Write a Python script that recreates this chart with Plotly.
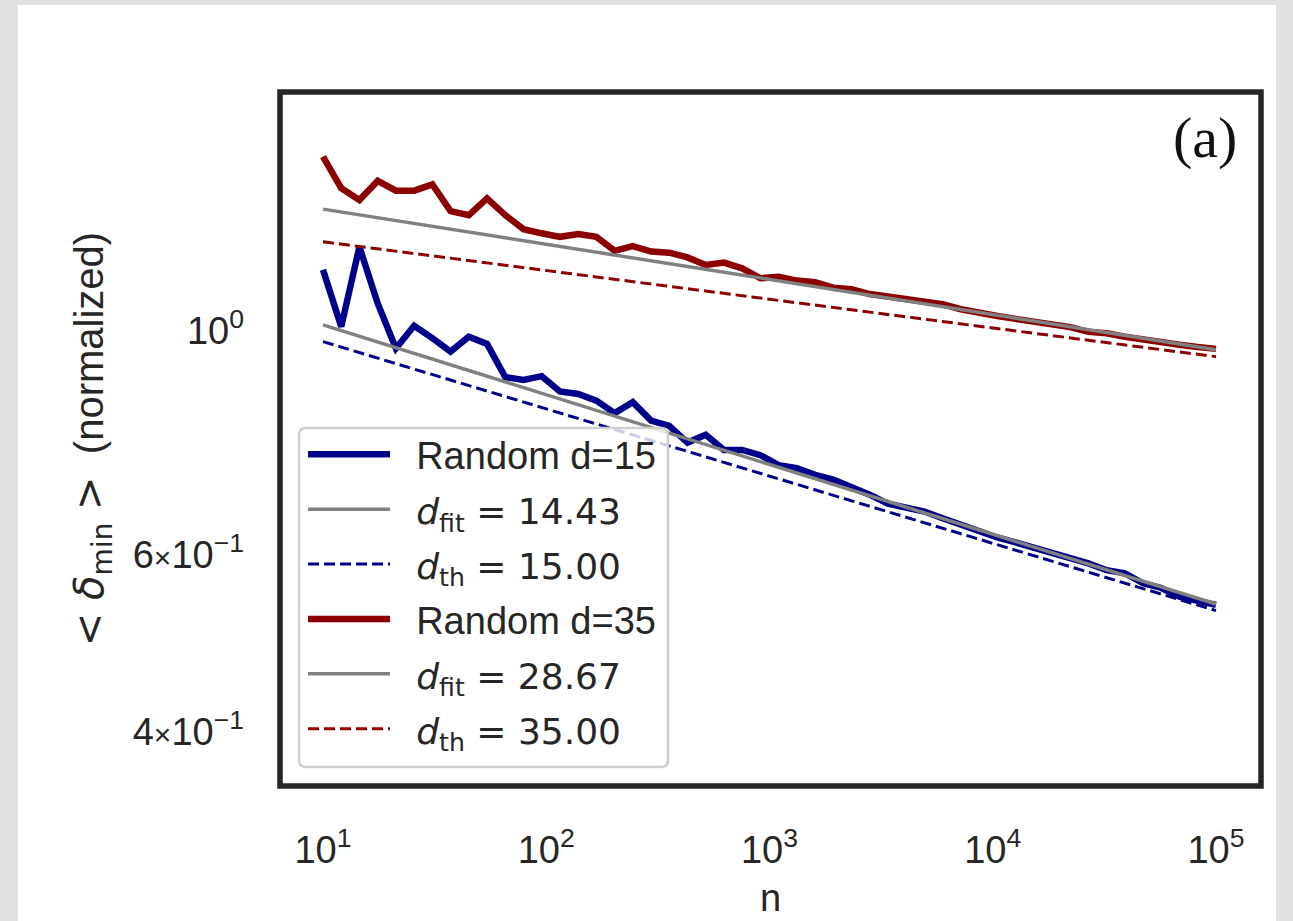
import plotly.graph_objects as go

# ---- data ----
n_values = [10, 12.07, 14.56, 17.58, 21.21, 25.6, 30.89, 37.28, 44.98, 54.29,
            65.51, 79.06, 95.41, 115.1, 139.0, 167.7, 202.4, 244.2, 294.7, 355.6,
            429.2, 517.9, 625.1, 754.3, 910.3, 1098.5, 1325.7, 1599.9, 1930.7, 2330.0,
            2811.8, 3393.2, 4094.9, 4941.7, 5963.6, 7196.9, 8685.1, 10481, 12649, 15264,
            18421, 22230, 26827, 32375, 39069, 47149, 56899, 68665, 82864, 100000]

random_d15 = [1.150, 1.010, 1.212, 1.065, 0.961, 1.012, 0.984, 0.954, 0.987, 0.971,
              0.900, 0.894, 0.902, 0.871, 0.866, 0.853, 0.829, 0.850, 0.815, 0.805,
              0.775, 0.789, 0.762, 0.762, 0.753, 0.736, 0.731, 0.720, 0.712, 0.701,
              0.688, 0.674, 0.669, 0.662, 0.652, 0.642, 0.633, 0.624, 0.617, 0.610,
              0.602, 0.595, 0.588, 0.579, 0.575, 0.562, 0.556, 0.545, 0.540, 0.535]

random_d35 = [1.489, 1.386, 1.349, 1.409, 1.378, 1.378, 1.398, 1.315, 1.303, 1.354,
              1.303, 1.262, 1.250, 1.240, 1.248, 1.240, 1.201, 1.214, 1.199, 1.196,
              1.183, 1.163, 1.169, 1.154, 1.128, 1.132, 1.122, 1.118, 1.104, 1.100,
              1.088, 1.082, 1.075, 1.069, 1.063, 1.051, 1.041, 1.035, 1.028, 1.022,
              1.016, 1.009, 0.998, 0.995, 0.987, 0.980, 0.974, 0.969, 0.964, 0.960]

# straight power-law lines (log-log) given by their end points
line_n = [10, 100000]
fit_d15 = [1.014, 0.536]
th_d15 = [0.976, 0.528]
fit_d35 = [1.321, 0.958]
th_d35 = [1.226, 0.943]

TIMES = "<span style=\"font-size:30px\">×</span>"
y_tickvals = [0.4, 0.6, 1.0]
y_ticktext = [f"4{TIMES}10<sup>\u22121</sup>", f"6{TIMES}10<sup>\u22121</sup>", "10<sup>0</sup>"]
x_tickvals = [10, 100, 1000, 10000, 100000]
x_ticktext = ["10<sup>1</sup>", "10<sup>2</sup>", "10<sup>3</sup>", "10<sup>4</sup>", "10<sup>5</sup>"]

BLUE = "#00008B"
RED = "#8B0000"
GRAY = "#808080"
TXT = "#262626"
MATH = "font-family:'DejaVu Sans';font-size:36px"
PAD = "\u00a0\u00a0"

def mlabel(sub, val):
    return f"{PAD}<span style=\"{MATH}\"><i>d</i><sub>{sub}</sub> = {val}</span>"

fig = go.Figure()
fig.add_trace(go.Scatter(x=n_values, y=random_d15, mode="lines", name=PAD + "Random d=15",
                         line=dict(color=BLUE, width=6.5), legendgroup="a"))
fig.add_trace(go.Scatter(x=line_n, y=fit_d15, mode="lines", name=mlabel("fit", "14.43"),
                         line=dict(color=GRAY, width=3.5), legendgroup="b"))
fig.add_trace(go.Scatter(x=line_n, y=th_d15, mode="lines", name=mlabel("th", "15.00"),
                         line=dict(color=BLUE, width=3, dash="11px,5px"), legendgroup="c"))
fig.add_trace(go.Scatter(x=n_values, y=random_d35, mode="lines", name=PAD + "Random d=35",
                         line=dict(color=RED, width=6.5), legendgroup="d"))
fig.add_trace(go.Scatter(x=line_n, y=fit_d35, mode="lines", name=mlabel("fit", "28.67"),
                         line=dict(color=GRAY, width=3.5), legendgroup="e"))
fig.add_trace(go.Scatter(x=line_n, y=th_d35, mode="lines", name=mlabel("th", "35.00"),
                         line=dict(color=RED, width=3, dash="11px,5px"), legendgroup="f"))

# rounded legend frame (paper coordinates)
lx0, lx1, ly0, ly1 = 0.0194, 0.3955, 0.0274, 0.5159
rx, ry = 7 / 981, 7 / 694
legend_frame = (f"M{lx0+rx},{ly1} L{lx1-rx},{ly1} Q{lx1},{ly1} {lx1},{ly1-ry} "
                f"L{lx1},{ly0+ry} Q{lx1},{ly0} {lx1-rx},{ly0} L{lx0+rx},{ly0} "
                f"Q{lx0},{ly0} {lx0},{ly0+ry} L{lx0},{ly1-ry} Q{lx0},{ly1} {lx0+rx},{ly1} Z")

fig.update_layout(
    width=1293, height=921,
    margin=dict(l=280, r=32, t=92, b=135),
    paper_bgcolor="#e1e1e1",
    plot_bgcolor="white",
    font=dict(family="Liberation Sans, Arial, sans-serif", color=TXT, size=38),
    showlegend=True,
    legend=dict(x=0.0235, y=0.5230, xanchor="left", yanchor="top",
                bgcolor="rgba(0,0,0,0)", borderwidth=0,
                font=dict(size=38, color=TXT), itemwidth=82, tracegroupgap=2.5,
                traceorder="grouped"),
    xaxis=dict(type="log", range=[0.8074, 5.2016], showgrid=False, zeroline=False,
               showline=False, ticks="", tickvals=x_tickvals, ticktext=x_ticktext,
               tickfont=dict(size=38, color=TXT), ticklabelstandoff=38, automargin=False,
               title=dict(text="n", font=dict(size=38, color=TXT), standoff=14)),
    yaxis=dict(type="log", range=[-0.4514, 0.2371], showgrid=False, zeroline=False,
               showline=False, ticks="", tickvals=y_tickvals, ticktext=y_ticktext,
               tickfont=dict(size=38, color=TXT), ticklabelstandoff=35, automargin=False,
               title=dict(text="<span style=\"font-family:'DejaVu Sans'\">&lt; <i>δ</i><sub>min</sub> &gt;</span>  (normalized)",
                          font=dict(size=40, color=TXT), standoff=16)),
    shapes=[
        dict(type="rect", xref="paper", yref="paper", x0=-0.2671, x1=1.0153, y0=-0.21, y1=1.1254,
             fillcolor="white", line=dict(width=0), layer="below"),
        dict(type="path", xref="paper", yref="paper", path=legend_frame,
             fillcolor="rgba(255,255,255,0.8)", line=dict(color="#cfcfcf", width=2.5), layer="above"),
        dict(type="rect", xref="paper", yref="paper", x0=0, x1=1, y0=0, y1=1,
             line=dict(color="#262626", width=5.5), fillcolor="rgba(0,0,0,0)", layer="above"),
    ],
    annotations=[
        dict(text="(a)", xref="paper", yref="paper", x=0.9426, y=0.935, showarrow=False,
             xanchor="center", yanchor="middle",
             font=dict(family="Liberation Serif, Times New Roman, serif", size=58, color="#111111")),
    ],
)

fig.write_html("out.html", config={"displayModeBar": False},
               post_script="document.body.style.margin='0';")
